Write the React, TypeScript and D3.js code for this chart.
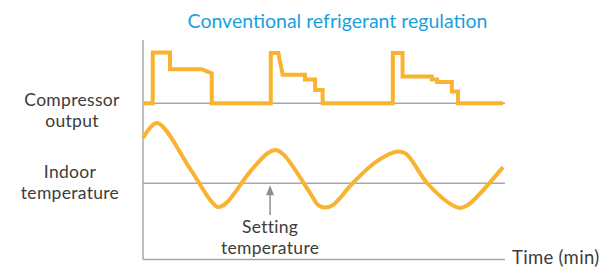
import React, { useEffect, useRef } from 'react';
import * as d3 from 'd3';

// compressor output (% of max) against time (min), vertices of the stepped trace
const compressorTime = [0, 2.7, 2.7, 7.5, 7.5, 16.3, 19.1, 19.1, 35.5, 35.5, 37.6, 38.8, 45, 45, 47.8, 47.8, 49.9, 49.9, 69.4, 69.4, 72.1, 72.1, 80.2, 80.2, 81.7, 81.7, 85.8, 85.8, 87.5, 87.5, 100];
const compressorLevel = [0, 0, 100, 100, 67, 67, 59, 0, 0, 99, 99, 56, 56, 47, 47, 26, 26, 0, 0, 99, 99, 53, 53, 47, 47, 42, 42, 23, 23, 0, 0];

// indoor temperature, deviation from the setting temperature
const tempTime = [0, 3.9, 13.1, 18.9, 20.8, 23.1, 29.7, 34.7, 36.9, 39.2, 46.4, 48.6, 50.6, 52.8, 58.3, 65.0, 70.8, 73.1, 78.9, 85.8, 88.1, 90.3, 100];
const tempDev = [1.51, 2.01, 0.48, -0.59, -0.79, -0.66, 0.38, 1.01, 1.11, 0.94, -0.32, -0.72, -0.81, -0.72, 0.01, 0.74, 1.06, 0.98, 0.01, -0.72, -0.82, -0.72, 0.54];

const title = 'Conventional refrigerant regulation';
const compressorLabel = ['Compressor', 'output'];
const tempLabel = ['Indoor', 'temperature'];
const settingLabel = ['Setting', 'temperature'];
const settingTime = 35.3;
const xLabel = 'Time (min)';

const orange = '#f9b330';
const grey = '#a8a8a8';
const textColor = '#3c3c3c';
const font = 'Lato, sans-serif';

const App = () => {
  const svgRef = useRef<SVGSVGElement>(null);

  useEffect(() => {
    const svg = d3.select(svgRef.current);
    svg.selectAll('*').remove();

    const x = d3.scaleLinear().domain([0, 100]).range([143, 503]);
    const yComp = d3.scaleLinear().domain([0, 100]).range([103.3, 52.5]);
    const yTemp = d3.scaleLinear().domain([0, 1]).range([183.3, 153.3]);
    const axisY = 259.5;
    const lineEnd = 505;

    // title
    svg.append('text')
      .attr('x', 337.5).attr('y', 28)
      .attr('text-anchor', 'middle')
      .attr('font-family', font).attr('font-size', 19.5)
      .attr('fill', '#199fe0')
      .text(title);

    // reference lines
    [yComp(0), yTemp(0)].forEach(y => {
      svg.append('line')
        .attr('x1', x(0)).attr('x2', lineEnd)
        .attr('y1', y).attr('y2', y)
        .attr('stroke', grey).attr('stroke-width', 1.5);
    });

    // axes
    svg.append('line')
      .attr('x1', x(0)).attr('x2', x(0))
      .attr('y1', 40).attr('y2', axisY)
      .attr('stroke', grey).attr('stroke-width', 1.5);
    svg.append('line')
      .attr('x1', x(0)).attr('x2', lineEnd)
      .attr('y1', axisY).attr('y2', axisY)
      .attr('stroke', grey).attr('stroke-width', 1.5);

    // setting temperature arrow
    const ax = x(settingTime);
    const tip = yTemp(0) + 2;
    svg.append('line')
      .attr('x1', ax).attr('x2', ax)
      .attr('y1', tip + 8).attr('y2', 215)
      .attr('stroke', '#8e8e8e').attr('stroke-width', 1.5);
    svg.append('path')
      .attr('d', `M${ax},${tip} L${ax - 4},${tip + 10} L${ax + 4},${tip + 10} Z`)
      .attr('fill', '#8e8e8e');

    // compressor trace
    const compLine = d3.line<number>()
      .x((d, i) => x(compressorTime[i]))
      .y(d => yComp(d));
    svg.append('path')
      .attr('d', compLine(compressorLevel))
      .attr('fill', 'none')
      .attr('stroke', orange).attr('stroke-width', 4)
      .attr('stroke-linejoin', 'miter');

    // temperature curve
    const tempLine = d3.line<number>()
      .x((d, i) => x(tempTime[i]))
      .y(d => yTemp(d))
      .curve(d3.curveCatmullRom.alpha(0.5));
    svg.append('path')
      .attr('d', tempLine(tempDev))
      .attr('fill', 'none')
      .attr('stroke', orange).attr('stroke-width', 4);

    // labels, one text element per block
    const label = (lines: string[], cx: number, y0: number, anchor = 'middle', size = 17.5) => {
      const t = svg.append('text')
        .attr('text-anchor', anchor)
        .attr('font-family', font).attr('font-size', size)
        .attr('letter-spacing', 0.3)
        .attr('fill', textColor);
      lines.forEach((s, i) => {
        t.append('tspan')
          .attr('x', cx).attr('y', y0 + i * 21.2)
          .text(s);
      });
    };
    label(compressorLabel, 72, 105.5);
    label(tempLabel, 70, 177.5);
    label(settingLabel, ax, 232.5);
    label([xLabel], 512, 264, 'start', 18.5);
  }, []);

  return (
    <svg ref={svgRef} width={602} height={267}
      style={{ position: 'absolute', left: 0, top: 0, background: '#fff' }} />
  );
};

export default App;
